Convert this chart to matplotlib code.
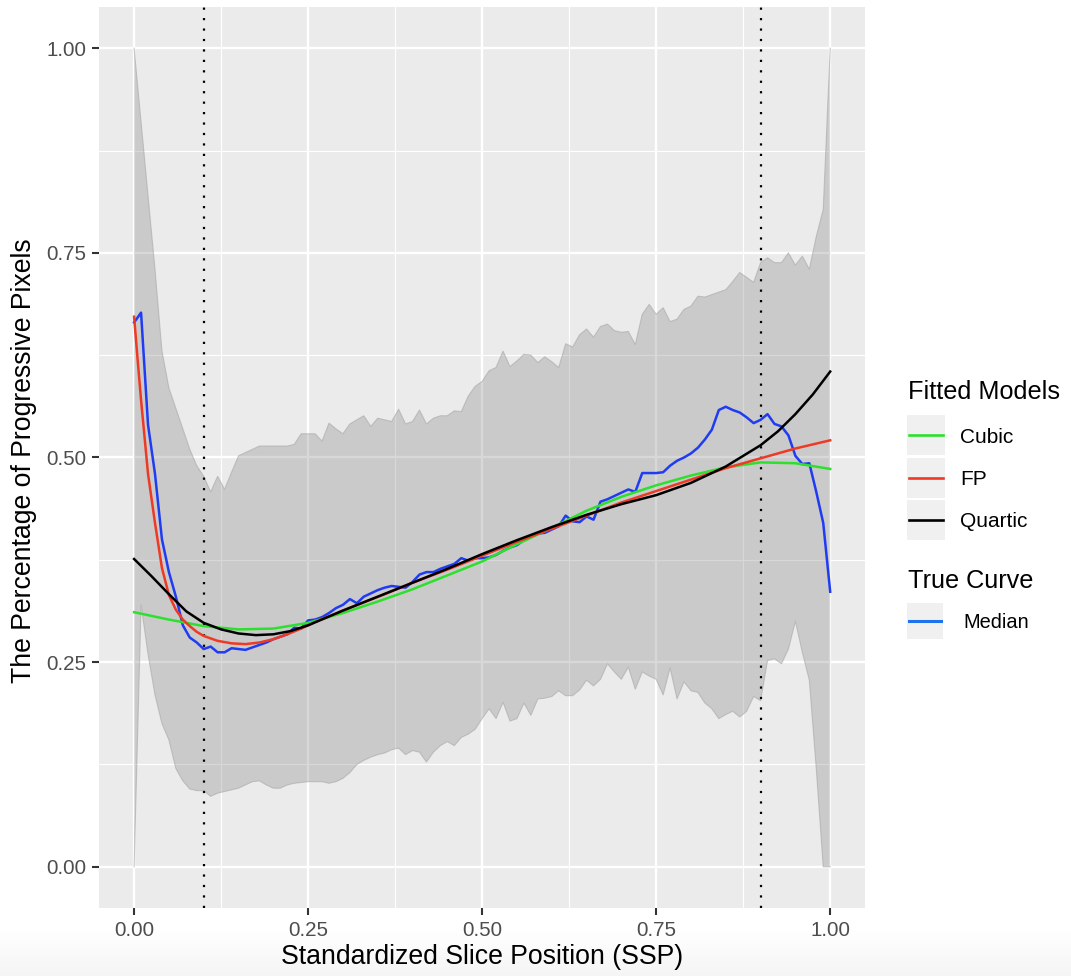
import numpy as np
import matplotlib
matplotlib.use("Agg")
import matplotlib.pyplot as plt
from matplotlib.patches import Rectangle

plt.rcParams['font.family'] = ['Liberation Sans', 'DejaVu Sans']

# ---------------- data ----------------
ssp = np.round(np.arange(101) * 0.01, 2)

band_upper = [1.000, 0.910, 0.820, 0.730, 0.630, 0.585, 0.560, 0.535, 0.510, 0.490,
              0.477, 0.458, 0.477, 0.461, 0.482, 0.502, 0.506, 0.510, 0.514, 0.514,
              0.514, 0.514, 0.514, 0.516, 0.529, 0.529, 0.529, 0.520, 0.542, 0.535,
              0.529, 0.541, 0.546, 0.551, 0.538, 0.548, 0.546, 0.544, 0.559, 0.541,
              0.544, 0.558, 0.541, 0.548, 0.551, 0.551, 0.557, 0.556, 0.575, 0.587,
              0.593, 0.606, 0.610, 0.630, 0.611, 0.618, 0.626, 0.625, 0.616, 0.623,
              0.617, 0.610, 0.639, 0.635, 0.650, 0.657, 0.647, 0.660, 0.663, 0.655,
              0.653, 0.654, 0.638, 0.675, 0.687, 0.675, 0.683, 0.666, 0.669, 0.681,
              0.685, 0.697, 0.696, 0.699, 0.702, 0.705, 0.715, 0.726, 0.720, 0.714,
              0.738, 0.744, 0.738, 0.738, 0.750, 0.735, 0.746, 0.730, 0.770, 0.803,
              1.000]

band_lower = [0.000, 0.320, 0.260, 0.210, 0.175, 0.155, 0.120, 0.105, 0.095, 0.093,
              0.093, 0.086, 0.090, 0.092, 0.094, 0.096, 0.100, 0.104, 0.105, 0.100,
              0.096, 0.096, 0.100, 0.102, 0.103, 0.104, 0.104, 0.104, 0.102, 0.104,
              0.108, 0.115, 0.125, 0.130, 0.134, 0.137, 0.139, 0.143, 0.145, 0.137,
              0.142, 0.140, 0.128, 0.140, 0.148, 0.153, 0.148, 0.158, 0.162, 0.168,
              0.181, 0.193, 0.181, 0.201, 0.178, 0.181, 0.200, 0.185, 0.205, 0.206,
              0.208, 0.215, 0.209, 0.209, 0.216, 0.228, 0.221, 0.229, 0.248, 0.238,
              0.229, 0.244, 0.217, 0.238, 0.233, 0.229, 0.210, 0.243, 0.205, 0.226,
              0.215, 0.213, 0.200, 0.193, 0.181, 0.186, 0.190, 0.183, 0.190, 0.208,
              0.203, 0.252, 0.254, 0.248, 0.266, 0.300, 0.262, 0.228, 0.120, 0.000,
              0.000]

median = [0.665, 0.677, 0.540, 0.480, 0.400, 0.360, 0.330, 0.295, 0.280, 0.274,
          0.266, 0.269, 0.262, 0.262, 0.267, 0.266, 0.265, 0.268, 0.271, 0.274,
          0.278, 0.281, 0.284, 0.292, 0.291, 0.301, 0.302, 0.305, 0.310, 0.316,
          0.320, 0.327, 0.322, 0.330, 0.334, 0.338, 0.341, 0.343, 0.342, 0.341,
          0.348, 0.357, 0.360, 0.360, 0.364, 0.367, 0.370, 0.377, 0.374, 0.377,
          0.377, 0.378, 0.381, 0.386, 0.390, 0.393, 0.399, 0.403, 0.407, 0.408,
          0.412, 0.416, 0.429, 0.422, 0.421, 0.428, 0.424, 0.446, 0.449, 0.453,
          0.457, 0.461, 0.458, 0.481, 0.481, 0.481, 0.482, 0.490, 0.496, 0.500,
          0.505, 0.512, 0.522, 0.534, 0.558, 0.562, 0.558, 0.555, 0.549, 0.542,
          0.546, 0.553, 0.541, 0.538, 0.527, 0.502, 0.492, 0.493, 0.458, 0.420,
          0.336]

fp_x = [0.000, 0.005, 0.010, 0.015, 0.020, 0.030, 0.040, 0.050, 0.060, 0.070,
        0.080, 0.090, 0.100, 0.120, 0.140, 0.160, 0.180, 0.200, 0.220, 0.240,
        0.260, 0.280, 0.300, 0.330, 0.360, 0.400, 0.450, 0.500, 0.550, 0.600,
        0.650, 0.700, 0.750, 0.800, 0.850, 0.900, 0.950, 1.000]
fp_y = [0.672, 0.620, 0.570, 0.525, 0.480, 0.420, 0.365, 0.332, 0.314, 0.302,
        0.294, 0.287, 0.282, 0.276, 0.273, 0.272, 0.274, 0.278, 0.284, 0.291,
        0.299, 0.306, 0.313, 0.323, 0.333, 0.347, 0.363, 0.380, 0.397, 0.413,
        0.429, 0.445, 0.459, 0.473, 0.487, 0.499, 0.511, 0.521]

quartic_x = [0.000, 0.025, 0.050, 0.075, 0.100, 0.125, 0.150, 0.175, 0.200, 0.225,
             0.250, 0.275, 0.300, 0.350, 0.400, 0.450, 0.500, 0.550, 0.600, 0.650,
             0.700, 0.750, 0.800, 0.850, 0.900, 0.925, 0.950, 0.975, 1.000]
quartic_y = [0.376, 0.355, 0.333, 0.312, 0.298, 0.290, 0.285, 0.283, 0.284, 0.288,
             0.295, 0.304, 0.313, 0.330, 0.347, 0.364, 0.382, 0.399, 0.415, 0.430,
             0.443, 0.454, 0.469, 0.489, 0.515, 0.532, 0.553, 0.577, 0.605]

cubic_x = [0.00, 0.05, 0.10, 0.15, 0.20, 0.25, 0.30, 0.35, 0.40, 0.45,
           0.50, 0.55, 0.60, 0.65, 0.70, 0.75, 0.80, 0.85, 0.90, 0.95, 1.00]
cubic_y = [0.311, 0.302, 0.294, 0.290, 0.291, 0.298, 0.310, 0.324, 0.339, 0.356,
           0.373, 0.394, 0.414, 0.435, 0.452, 0.466, 0.478, 0.488, 0.494, 0.493, 0.486]

cut_points = [0.10, 0.90]

x_ticks = [0.00, 0.25, 0.50, 0.75, 1.00]
x_tick_labels = ["0.00", "0.25", "0.50", "0.75", "1.00"]
y_ticks = [0.00, 0.25, 0.50, 0.75, 1.00]
y_tick_labels = ["0.00", "0.25", "0.50", "0.75", "1.00"]

fitted_names = ["Cubic", "FP", "Quartic"]
fitted_colors = ["#2EE02E", "#EE3A24", "#000000"]
median_color = "#1F3CF2"
median_key_color = "#1E72EE"

# ---------------- figure ----------------
W, H = 1071, 976
fig = plt.figure(figsize=(W / 100, H / 100), dpi=100)
fig.patch.set_facecolor("white")

# subtle bottom shading (screenshot artefact)
gax = fig.add_axes([0, 0, 1, 48 / H], zorder=-5)
grad = np.linspace(0, 1, 50)[:, None] * np.ones((1, 10))
gax.imshow(grad, aspect="auto", cmap="Greys", vmin=0, vmax=12,
           extent=[0, 1, 0, 1], origin="upper")
gax.axis("off")

pl, pr, pt, pb = 99.3, 865.0, 7.3, 907.7
ax = fig.add_axes([pl / W, 1 - pb / H, (pr - pl) / W, (pb - pt) / H])
ax.set_facecolor("#EBEBEB")
for s in ax.spines.values():
    s.set_visible(False)
ax.set_xlim(-0.05, 1.05)
ax.set_ylim(-0.05, 1.05)

ax.set_xticks(x_ticks)
ax.set_xticklabels(x_tick_labels)
ax.set_yticks(y_ticks)
ax.set_yticklabels(y_tick_labels)
ax.set_xticks([0.125, 0.375, 0.625, 0.875], minor=True)
ax.set_yticks([0.125, 0.375, 0.625, 0.875], minor=True)
ax.grid(which="major", color="white", linewidth=1.7)
ax.grid(which="minor", color="white", linewidth=0.85)
ax.set_axisbelow(True)
ax.tick_params(which="major", length=5, width=1.5, color="#333333",
               labelsize=14.8, labelcolor="#4D4D4D", pad=4.5)
ax.tick_params(which="minor", length=0)

# ribbon
ax.fill_between(ssp, band_lower, band_upper, facecolor="#7F7F7F", alpha=0.3,
                edgecolor="none", zorder=2)
ax.plot(ssp, band_upper, color="#A8A8A8", lw=0.8, alpha=0.6, zorder=2)
ax.plot(ssp, band_lower, color="#A8A8A8", lw=0.8, alpha=0.6, zorder=2)

# dotted cut lines
for c in cut_points:
    ax.axvline(c, color="black", lw=1.6, dashes=(1, 3.7), zorder=3)

# curves
ax.plot(ssp, median, color=median_color, lw=1.8, zorder=4)
ax.plot(cubic_x, cubic_y, color=fitted_colors[0], lw=1.8, zorder=5)
ax.plot(fp_x, fp_y, color=fitted_colors[1], lw=1.8, zorder=6)
ax.plot(quartic_x, quartic_y, color=fitted_colors[2], lw=1.8, zorder=7)

# axis titles
fig.text(482 / W, 1 - 957 / H, "Standardized Slice Position (SSP)",
         ha="center", va="center", fontsize=19.2, color="black")
fig.text(24 / W, 1 - 461 / H, "The Percentage of Progressive Pixels",
         ha="center", va="center", rotation=90, fontsize=19.2, color="black")

# ---------------- legend (pixel overlay) ----------------
lax = fig.add_axes([0, 0, 1, 1], zorder=10)
lax.set_xlim(0, W)
lax.set_ylim(H, 0)
lax.axis("off")
lax.patch.set_alpha(0)

lax.text(908, 399, "Fitted Models", fontsize=18.2, ha="left", va="baseline")
key_tops = [415, 457.5, 500]
label_base = [443, 485, 527]
for name, col, top, base in zip(fitted_names, fitted_colors, key_tops, label_base):
    lax.add_patch(Rectangle((907, top), 38, 40, facecolor="#F0F0F0", edgecolor="none"))
    lax.plot([909, 943], [top + 20, top + 20], color=col, lw=1.9)
    lax.text(960, base, name, fontsize=15, ha="left", va="baseline")

lax.text(908, 588, "True Curve", fontsize=18.2, ha="left", va="baseline")
lax.add_patch(Rectangle((907, 603), 36, 36, facecolor="#F0F0F0", edgecolor="none"))
lax.plot([909, 941], [621, 621], color=median_key_color, lw=2.2)
lax.text(963, 628, "Median", fontsize=14.4, ha="left", va="baseline")

fig.savefig("out.png", dpi=100, facecolor="white")
